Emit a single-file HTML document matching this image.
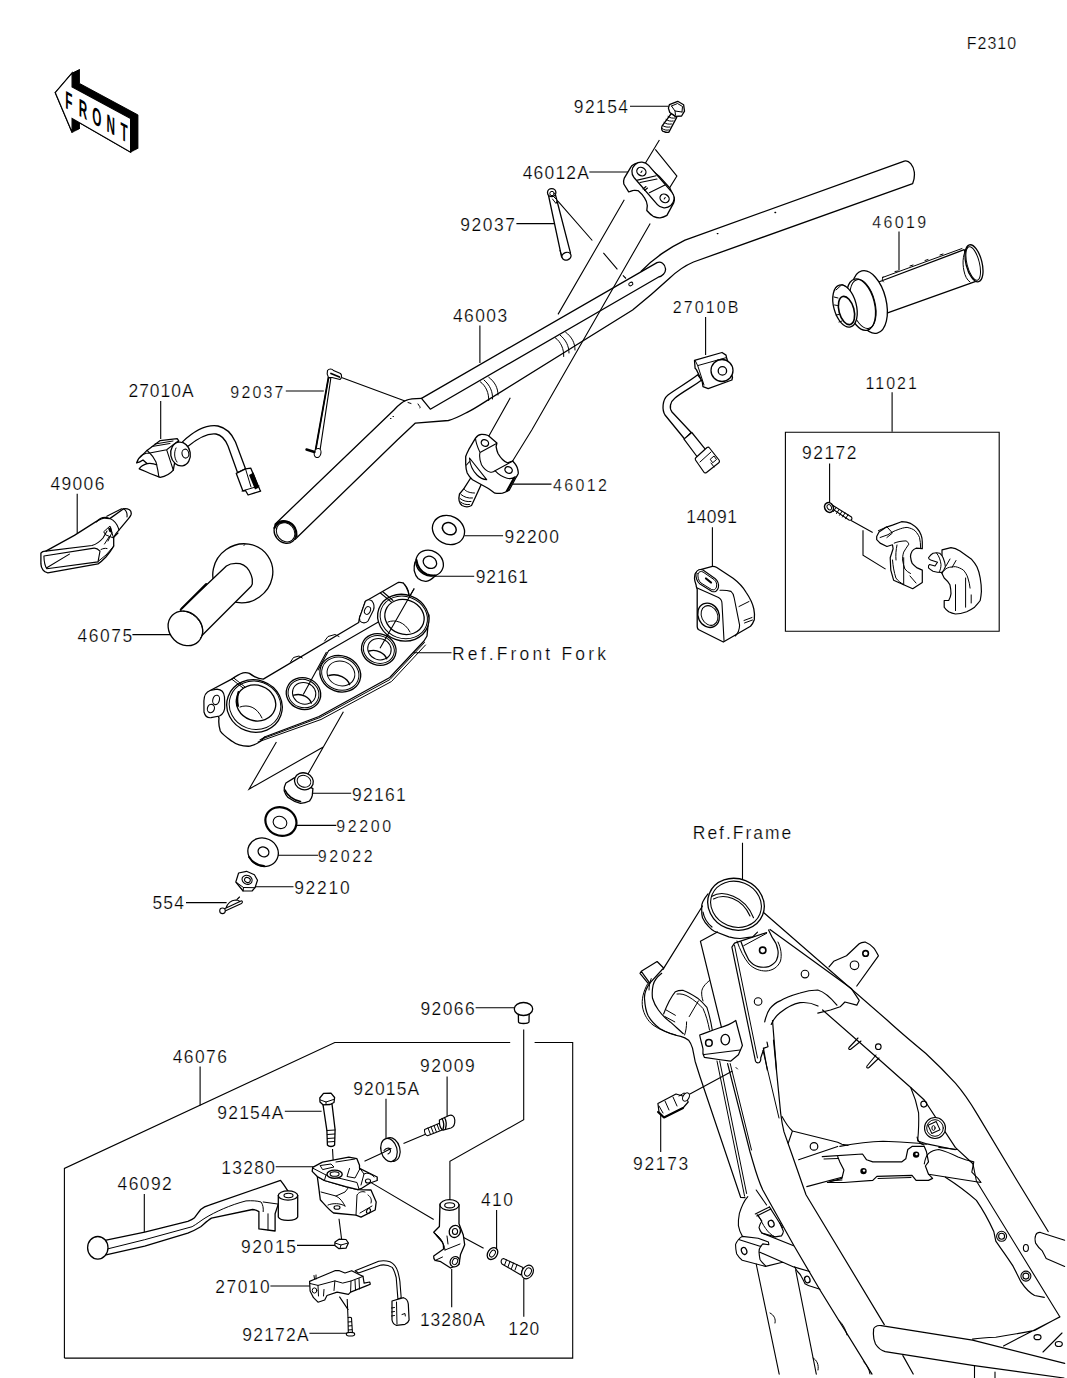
<!DOCTYPE html>
<html><head><meta charset="utf-8"><style>
html,body{margin:0;padding:0;background:#fff;}
svg{display:block;}
.o{fill:none;stroke:#000;stroke-linejoin:round;stroke-linecap:round;}
.t{fill:none;stroke:#000;}
.w{fill:#fff;stroke:#000;stroke-linejoin:round;}
text{font-family:"Liberation Sans",sans-serif;fill:#000;stroke:#fff;stroke-width:0.25px;}
</style></head><body>
<svg width="1067" height="1378" viewBox="0 0 1067 1378">
<rect width="1067" height="1378" fill="#fff"/>
<path class="t" stroke-width="1.1" d="M630.0 106.2L668.7 106.2M589.3 172.0L628.5 172.0M516.4 223.6L554.4 223.6M479.9 325.5L479.9 363.0M285.8 391.0L323.8 391.0M160.7 401.0L160.7 438.9M77.2 493.7L77.2 533.0M512.4 484.1L551.5 484.1M464.3 535.7L503.1 535.7M434.0 576.3L474.2 576.3M132.4 634.6L171.3 634.6M412.4 652.7L451.5 652.7M311.9 793.2L351.2 793.2M296.6 825.4L336.3 825.4M277.8 855.3L318.0 855.3M252.8 886.8L293.5 886.8M186.0 902.6L226.6 902.6M705.6 317.0L705.6 355.1M899.0 231.4L899.0 270.6M892.1 392.3L892.1 431.8M829.6 463.5L829.6 503.3M712.4 527.2L712.4 566.4M742.5 842.8L742.5 880.8M660.7 1113.8L660.7 1151.9M475.6 1007.7L514.2 1007.7M200.1 1066.6L200.1 1105.4M447.1 1076.4L447.1 1116.4M386.0 1098.7L386.0 1138.0M284.8 1111.2L321.6 1111.2M275.7 1166.8L315.0 1166.8M144.3 1194.0L144.3 1233.5M496.6 1210.0L496.6 1248.7M297.0 1245.4L336.2 1245.4M270.4 1286.0L311.0 1286.0M451.7 1269.0L451.7 1307.2M523.8 1278.6L523.8 1316.7M309.4 1333.3L348.4 1333.3"/>
<path class="t" stroke-width="1.1" d="M785.4 432.2H999.2V631.2H785.4Z"/>
<path class="t" stroke-width="1.1" d="M64.4 1358.1V1168.4L334.8 1042.5H510.2M534.6 1042.5H572.7V1358.1H64.4"/>
<path class="o" stroke-width="1.3" d="M275 524.2L393.7 410.2C398 405.5 402 402 406.1 400.4C409 399 413 398.4 421.5 398.4"/>
<path class="o" stroke-width="1.3" d="M641.2 271.2C650 262 657 257 663 252.9C670 248 677 244 685 240.1L904.3 161.1C909 159.5 913.5 166 914.3 172C914.8 177 913.8 181 912.7 183.6L693.5 262C684 266 676 272 669.2 278.5C660 287 645 300 632.6 310L486.9 400.6C480 405 474 409 468.1 411.8C462 415 455 419 448.4 420.5L415.4 423.1L397.3 440L295.2 539.2"/>
<ellipse class="o" stroke-width="1.3" cx="285.1" cy="532" rx="12" ry="10.3" transform="rotate(50 285.1 532)"/>
<ellipse class="o" cx="285.6" cy="532.3" rx="10.2" ry="8.6" transform="rotate(50 285.6 532.3)" stroke-width="1"/>
<path class="o" d="M274.5 528C276 523 282 520.5 288 522C294 524 297 530 296.5 536" stroke-width="2.2"/>
<path class="o" stroke-width="1.3" d="M421.5 398.4L657 262.6C661 261 665 264 665.5 268.7C666 273 662 276.5 658.2 277.2L430.3 409.2Z"/>
<path class="o" stroke-width="1" d="M480.3 381.8C486 386 489 393 488.7 400.6M484 380C490 385 493 392 492.5 399M488.7 377.2C495 382 498 388 498 395M555.3 337.8C561 342 564 349 563.7 356.5M560 335C566 340 569 346 569 353M565.6 332.2C572 337 575 343 575 350"/>
<path class="o" stroke-width="1" d="M408 402.5L411 403.5M418 404C419 406 421 407 420 408M390.5 418.5h0.5M393 416.5h0.5"/>
<ellipse class="o" stroke-width="1" cx="630.8" cy="284" rx="2.2" ry="1.6" transform="rotate(-30 630.8 284)"/>
<path class="o" stroke-width="1.4" d="M775 212.5h0.6M717.3 233.6h0.6"/>
<path class="t" stroke-width="1.1" d="M659.4 140L645 163.7M655.3 149.3L676.9 176.1L666.6 192.6M624.3 199.8L558 314.4M510.3 397.8L485.5 442M650.2 223.4L531.8 430L512 462M414.2 588.5L380 648.2M326.5 651.9L303.3 694.5M343.4 711.8L305.3 778.7M276.4 742L249 789.2L323.7 746.7M557.9 201.1L592.3 240.5M603.4 252.9L617.4 269.3M622.9 275.4L626 278.5M341.5 377.5L405 400.9"/>
<path class="w" stroke-width="1.3" d="M671.3 113.5L662 126.2C661 129 662 131.5 664 131.6C666 132.5 668 132.5 668.9 132.1L676.7 117.4Z"/>
<path class="o" stroke-width="1" d="M664 122.5C666 124 669 124.5 671.5 124M666 119.5C668 121 671 121.5 673.2 121M668 116.5C670 118 673 118.5 675 118M662.5 125.5C664.5 127 667.5 127.5 670 127M662 128.5C664 130 666.5 130.5 668.5 130"/>
<path class="w" stroke-width="1.3" d="M669.4 104.7L677.7 101.3L683.6 104.7L684.5 111.1L681.6 116L675.7 116.4L669.8 112.5L668.4 108.1Z"/>
<path class="o" stroke-width="1" d="M671.5 106L677.5 103.5L682.5 106.5L682 112M671.5 106L675 111L682 112M675 111L675.5 115"/>
<path class="w" stroke-width="1.3" d="M630.7 167.4L624.3 178.1C623.5 180 623.5 182 623.8 184L628.7 191.9C630 192 632 190.5 633.6 190.4C636 190 637 190.5 638.5 190.9C641 193 643 195 644.4 197.7C646 200 647 203 647.3 205.6L646.8 210.5C649 213 651 215 653.2 216.3C656 217.5 658 218 660.1 217.8C663 217.5 665 216.5 666.9 215.4L673.8 202.6C674.5 201 674.5 199 674.3 197.7L669.8 187.9L659.1 176.2L646.3 165.4C644 164 641 163 638.5 163C636 163 634 164 632.1 165.4Z"/>
<path class="w" stroke-width="1.3" d="M634.2 177.8L657.4 204.6A9.5 9.5 0 0 0 671.8 192.2L648.6 165.4A9.5 9.5 0 0 0 634.2 177.8Z"/>
<path class="o" stroke-width="1.1" d="M637.5 180.1L656.1 175.7M649.3 192.8L665 185M640 182.5L657 179"/>
<ellipse class="o" stroke-width="1.3" cx="641.4" cy="171.6" rx="4.8" ry="4" transform="rotate(35 641.4 171.6)"/>
<ellipse class="o" stroke-width="1.3" cx="664.6" cy="198.4" rx="4.8" ry="4" transform="rotate(35 664.6 198.4)"/>
<path class="o" stroke-width="1.1" d="M641 172.5l1 -1.5M664.2 199l1 -1.5M643 189L646 186.5M644.5 190.5L647.5 188"/>
<path class="w" stroke-width="1.3" d="M548 193L561.5 256.5C563 260 569 259 570.5 253.1L555.5 195Z"/>
<ellipse class="w" stroke-width="1.3" cx="566.5" cy="256.2" rx="4.6" ry="3.8" transform="rotate(-20 566.5 256.2)"/>
<ellipse class="w" stroke-width="1.3" cx="551.7" cy="192.6" rx="4.2" ry="4" />
<ellipse class="o" cx="552" cy="193.5" rx="2.2" ry="2.2" stroke-width="1"/>
<path class="o" stroke-width="1" d="M553 196L557.5 200.5L556 203.5L552.5 199M560 250.5L561.5 255"/>
<path class="w" d="M328.5 377.5L315.6 450L320.2 449.2L330.8 378.3Z" stroke-width="1.1"/>
<path class="o" d="M328.5 377.5L315.6 450" stroke-width="1.8"/>
<path class="w" d="M327.5 370.5C329 368.5 332 368.5 333.5 370.5L340.5 373.5C342 375 342 378 340 379.5L332 377.5L328.5 377.5C327 375 327 372 327.5 370.5Z" stroke-width="1.1"/>
<path class="o" d="M331 373.5L339.5 377" stroke-width="1.8"/>
<ellipse class="w" cx="317.6" cy="453" rx="3.3" ry="4.6" transform="rotate(15 317.6 453)" stroke-width="1.1"/>
<path class="o" d="M306.5 449.5L314.5 452" stroke-width="2.4"/>
<path class="w" stroke-width="1.3" d="M471 477.5L463.9 488.7L459.5 494C458.5 498 459 503 462 505.5C465 507 469 507 471.5 505.5L475.5 497L483.7 479Z"/>
<path class="o" stroke-width="1" d="M461 494.5C464 497 468 498.5 472.5 498M460 498.5C463 501 467 502 471 501.5M460.5 502C463 504 466 505 469.5 504.5M463.9 488.7C465 491 469 493 474.5 493"/>
<path class="w" stroke-width="1.3" d="M475.5 438.1C477 436 479 434.5 481.5 434.4C484 434.3 486 434.7 488.2 435.5L496.9 443L496.1 446.7C496.5 449 497 451.5 498 453.5C499.5 456 501 458 502.5 459.5C504 461 506 462.5 507.7 462.9L512.6 461C515 463.5 517 466 517.5 468.5C518 470.5 518.5 472 518.2 473.7C517.5 475 516.8 476.5 516 477.5L509.2 490.2C507 491.5 505 492.5 502.5 493.2C500 493.5 497.5 493.5 495 493.2C492.5 491.5 490 489.5 487.5 488L472.5 479.7C470 477.5 468.5 475.5 467.2 473C466 470 465.8 467 465.7 464L465.7 456.5C466.5 454 467.5 452 468.7 449.7Z"/>
<path class="o" stroke-width="1.1" d="M475.5 438.5C476 444 478 448 480 452.4L496.5 443.4M480 452.4C479 457 480 461 481.5 464.7C484 469 487 471.5 490.5 472.2C492.5 472.5 494 471.8 495 470.7L513 461M496.1 446.7M495 470.7C498 474 502 477 507 478.2C510 479 513 478.5 515.2 476.7M469.5 458C470 465 473 471 477 475C480 478 484 479.5 486.7 479.7L469.5 458M466.5 465L469.5 461.5M513.5 478L506 491.5M515 477.5L507.5 491"/>
<ellipse class="o" stroke-width="1.3" cx="484.9" cy="443" rx="3.8" ry="3.2" transform="rotate(30 484.9 443)"/>
<ellipse class="o" stroke-width="1.3" cx="508.6" cy="470" rx="3.8" ry="3.2" transform="rotate(30 508.6 470)"/>
<ellipse class="w" stroke-width="1.3" cx="448.5" cy="530" rx="16.6" ry="14" transform="rotate(28 448.5 530)"/>
<ellipse class="o" cx="449.3" cy="528.7" rx="7.2" ry="5.8" transform="rotate(28 449.3 528.7)" stroke-width="1.5"/>
<path class="w" stroke-width="1.3" d="M415 562C414 566 414 568 414.2 570.6C415 574 416 576.5 418.1 578.5C420.5 580.5 423 581.5 426 581.4C429 581 432 579 434.5 576.5L441 571Z"/>
<ellipse class="w" stroke-width="1.3" cx="429.6" cy="563.1" rx="14.2" ry="12.4" transform="rotate(30 429.6 563.1)"/>
<path class="o" stroke-width="2" d="M416.5 560C417 566 421 572 427 574.5C430 575.5 432 575.8 435 575.5"/>
<ellipse class="o" stroke-width="1.3" cx="429.9" cy="562.3" rx="7" ry="5.8" transform="rotate(30 429.9 562.3)"/>
<path class="w" stroke-width="1.3" d="M876 283L964.2 249.7L975.8 281.4L886.9 313.1Z"/>
<path class="o" stroke-width="1" d="M882.5 277.5L962 248.5M883 276.8C882 279 882 281 883.5 282M895 271.5l3 -0.5M910 266l3 -1M925 260.5l3 -1M940 255l3 -1"/>
<ellipse class="w" stroke-width="1.3" cx="974" cy="263.3" rx="8" ry="19" transform="rotate(-14 974 263.3)"/>
<ellipse class="o" cx="973.2" cy="263.5" rx="6.2" ry="17.2" transform="rotate(-14 973.2 263.5)" stroke-width="1"/>
<path class="o" stroke-width="1" d="M968 247C963 252 962 262 964 271C965 276 967 280 970 282"/>
<ellipse class="w" stroke-width="1.3" cx="869.5" cy="302" rx="16.6" ry="32" transform="rotate(-14 869.5 302)"/>
<ellipse class="w" stroke-width="1.3" cx="861" cy="304.6" rx="13.5" ry="26.3" transform="rotate(-14 861 304.6)"/>
<ellipse class="o" cx="863" cy="304" rx="12" ry="25" transform="rotate(-14 863 304)" stroke-width="1"/>
<ellipse class="w" stroke-width="1.3" cx="845" cy="306" rx="11.3" ry="21.6" transform="rotate(-15 845 306)"/>
<ellipse class="o" cx="846.5" cy="310.5" rx="7.5" ry="14.5" transform="rotate(-15 846.5 310.5)" stroke-width="1.6"/>
<path class="o" stroke-width="1" d="M836 290L842 284.5L845 286M834 297l4 1M834.5 305l3 0.5M836 315l3 -0.5M839 322l3 -1"/>
<path class="w" stroke-width="1.3" d="M697.7 374.8C690 381 676 389 668 395C662 400 662 410 665 415L684.6 439L691.2 432.5L672 412C669 408 670 402 675 398C682 392 694 386 701.7 380Z"/>
<path class="w" d="M684 439.1L691.8 432.5L705.6 449.6L697.7 457.5Z" stroke-width="1.2"/>
<path class="w" d="M696 457.5L707 447.5C708 447 709 447.3 709.5 448L719 460C719.8 461 719.5 462.3 718.5 463L706.5 472.5C705.5 473.2 704.3 473 703.8 472L695.5 460C695 459 695.2 458.2 696 457.5Z" stroke-width="1.2"/>
<path class="o" stroke-width="1" d="M700 462L711 452M710.5 459l3.5 -3l2.5 3.5l-3.5 3zM711 463l3 4"/>
<path class="w" stroke-width="1.3" d="M694.5 360.4L722 352.5L726 355.1L726.6 357.7L732.5 377.4L731.9 380L708.2 388.6L703 386.6L702.3 382L696.4 369.6L695.1 368.2Z"/>
<path class="o" stroke-width="1" d="M695.1 360.4L697.7 365.6L726 357.7M697.7 365.6L704 385"/>
<circle class="w" stroke-width="1.3" cx="722" cy="370.5" r="11"/>
<circle class="o" stroke-width="1.3" cx="722.4" cy="370.9" r="4.2"/>
<path class="w" stroke-width="1.3" d="M695 574C696.5 571.5 698.5 570 700.5 569.6L712.4 566.4C714 566.3 715.5 566.8 716.8 567.5L733.1 578.3C738 582 743 587 746.2 592.5C750 598 752.5 603 753.8 608.8C754.5 612 754.8 616 754.3 619.7C753.5 622 752 624.5 750.5 626.2L723.3 642L698.3 629.5C697.5 628.5 697.2 627.5 697.2 626.5L697.2 589.2C696.5 587.5 696 586 696.1 584.9C695 582 694.5 580 694.5 578.3Z"/>
<path class="o" stroke-width="1.1" d="M697.2 588.1L718.5 597.5C721 599 722 601 722 603.5L724 640.5M720 590.3C724 590 728 590.5 731 591.4C733 593 734 595.5 734.2 598L739.6 625.1C739.5 630 737.5 634 735.3 636"/>
<path class="w" stroke-width="1.1" d="M696 573C697 570 700 569 703 570L715 578.5C718 581 719 584 718.4 587.5C717.5 591 715 592.5 712 591.5L700 584C697 582 695.5 577 696 573Z"/>
<path class="o" stroke-width="1" d="M698 573.5C699 571.5 701 571 703 572L714 579.5C716.5 581.5 717 584 716.5 587C715.5 589.5 714 590.5 711.5 589.5L701 583C698.5 581 697.5 577 698 573.5Z"/><path class="o" stroke-width="2.2" d="M706 578.5L711 582.5"/>
<ellipse class="o" cx="708.6" cy="615.3" rx="10.5" ry="12.5" transform="rotate(-25 708.6 615.3)" stroke-width="1.4"/>
<ellipse class="o" cx="709.5" cy="615.5" rx="8" ry="10.2" transform="rotate(-25 709.5 615.5)" stroke-width="1"/>
<path class="o" stroke-width="1" d="M744 620.5l8 -3M744.5 623l8 -3M739 606.5l10 -5"/>
<path class="t" stroke-width="1.1" d="M851.1 520.6L872.7 532.5M863 530.3V555.1L885.6 569.1"/>
<path class="w" d="M831 508L849 520C851.5 521 852.5 519 851.5 517L833 505.5Z" stroke-width="1.1"/>
<path class="o" stroke-width="1" d="M836 507.5l-2.5 4M839 509.5l-2.5 4M842 511.3l-2.5 4M845 513l-2.5 4M848 514.8l-2.5 4"/>
<ellipse class="w" cx="829" cy="507.5" rx="4.2" ry="5" transform="rotate(-30 829 507.5)" stroke-width="1.6"/>
<ellipse class="o" cx="829.3" cy="507.3" rx="2" ry="2.8" transform="rotate(-30 829.3 507.3)" stroke-width="1"/>
<path class="w" d="M876.7 536.4L879 531.9L885.7 527.4L892.5 525.1L901.5 521.7C905 521.8 908 522.3 910.5 523.4C913 525 915.5 526.5 917.2 528.5C919 530.5 920.5 533 921.2 535.2C922 537.5 922.3 540 922.3 542L922.3 548.7L916.1 548.2C914 549 913 550 912.2 551C911 553 910.5 555 910.5 556.6C910.8 559 911.3 561.5 912.2 563.4C914 565.5 915.5 566.8 917.2 567.9L922.3 570.1L922.3 582.5L912.7 588.7L903.7 584.7L893.6 580.2L890.8 570.1L890.2 557.7L893.1 548.7L892.5 544.8L886.9 546.5L880.1 543.1L876.7 539.7Z" stroke-width="1.2"/>
<path class="o" stroke-width="1" d="M880.1 537.5L888 534.7C891 532.5 894 531 898.1 529.6C901 528.5 904 527.5 907.1 527.4C910 528 913 529 915 530.7C917 533 918.5 535 919.5 537.5C920.3 541 920.6 544 920.6 547.6M878.4 530.7L886.9 526.8L892.5 533L886.9 537.5M894.2 543.1C898 541.5 902 541 906 540.9C907.5 541.5 908.5 542.8 908.8 544.2C907 547 905 549.5 903.7 552.1C902.8 555 902.5 557.5 902.6 560C903 563 903.8 566 904.9 569C906.5 571 908.5 572.5 910.5 573.5M892.5 560C893 566 894 572 895.9 578C898 581 901 583 903.7 584.7M903.7 557.7L903.7 584.7M897 545C896 550 895.5 555 896 560M910 576L916 583"/>
<path class="w" d="M942 549.9L951 547.6C954 547.8 957 549 960 551L971.2 558.9C973.5 561.5 975.5 564 976.9 566.7C978.5 570 979.5 574 980.2 578C981 582.5 981.4 587 981.4 591.5C981.2 594.5 980.8 597.5 980.2 600.5C978.5 603 976.5 605 974.6 607.2C972 609 969.5 610.5 966.7 611.7C963 613 959 614 955.5 614C953 613.5 951 612.8 948.7 611.7C946.5 610 945 608.5 944.2 607.2L944.2 600.5L948.7 600.5C950 598 950.8 596 951 593.7C951 590.5 950.5 587.5 949.9 584.7C948.5 582 946.5 580 944.2 578L942 573.5Z" stroke-width="1.2"/>
<path class="o" stroke-width="1" d="M942 573.5C943.5 570.5 945.5 568.8 947.6 567.9C950 567 953 566.6 955.5 566.7C958.5 567.3 961 568.5 963.4 570.1C965.5 572.5 967 575 967.9 578C969 581.5 969.8 585 970.1 588.1M955.5 584.7L955.5 610.6M965.6 578L965.6 607.2M971.2 594.9L971.2 603M946 566L950 559M952 567.5L956 560.5"/>
<path class="w" d="M928.5 557.7C930 555.5 931.5 554 933 553.2C936 552.5 938 552.6 939.7 553.2C941 554.5 942.3 556 943.1 557.7C944.3 560.5 945.2 563.5 945.4 566.7C944.5 569 943.3 571 942 572.4C939 572.5 936 572 933 571.2C931 570 929.5 569 928.5 567.9C928.2 566 928.5 565 929.5 564.5L935 566L937.5 562.2L930.7 560C929.5 559.5 928.6 558.8 928.5 557.7Z" stroke-width="1.1"/>
<path class="o" stroke-width="1" d="M936.5 553C939 556 940.5 560 941 564.5C941 567 940.5 569.5 939.5 571.5"/>
<path class="w" stroke-width="1.3" d="M182.5 441.9C195 430 208 424.5 218 426C227 428 232 434 235.5 442L245.5 468.8L237.6 472.7L228 446C225.5 440 222 435 216 434C208 433 198 438 187.7 446.5Z"/>
<path class="w" stroke-width="1.3" d="M236.3 473.4L245.5 468.8L250.7 468.1L259.9 489.8L260.6 491.1L248.1 495L245.5 490.5L242.9 491.1Z"/>
<path class="o" stroke-width="1" d="M245.5 468.8L251 487M242 491L259 486"/>
<path d="M249 475L253.5 472.5L259 487.5L255 489.5Z" fill="#000"/>
<path class="w" stroke-width="1.3" d="M147 450.4L160.2 440.6L177.2 438.6L178.6 440.6L173.3 470.1C170 474 165 476.5 160.2 477.3L150 473.5C146 472 143 470 139.2 468.8C141 466 144 464.5 147 463.6L143 460C141 461.5 139 462.5 136.6 462.9C138 459 140 456.5 143.1 454.4Z"/>
<path class="o" stroke-width="1" d="M152 446.5L170 443.5M155 444L173 441"/>
<path class="o" stroke-width="1.1" d="M147 450.4L149.7 453L166.7 449.8L178.6 440.6M166.7 449.8L173.3 470.1M149.7 453C152 455 154 458 156 462C157 466 158 470 158.9 477M143.1 454.4C146 453 148 453 149.7 453M147 463.6C151 463 154 463.5 157 465"/>
<ellipse class="w" stroke-width="1.3" cx="180.5" cy="454" rx="9.8" ry="12" transform="rotate(-10 180.5 454)"/>
<ellipse class="o" cx="185.4" cy="453.6" rx="3.4" ry="4.5" transform="rotate(-10 185.4 453.6)" stroke-width="1.1"/>
<path class="o" stroke-width="1" d="M176 448C174 452 174 458 177 462"/>
<path class="w" stroke-width="1.3" d="M40.9 553.1C42 551.5 44 551 45.8 551.1L74.4 535.4L96 521.6C99 520 101.5 518.5 103.9 518.1C106 518 108 518.3 109.8 518.6L123.6 508.8C126 508.5 128 509 129.5 509.8C131 511 131.5 513 131 514.7C130.5 516 129.5 517.5 128.5 518.6L118.7 530.4C116.5 532.5 115 535 113.7 537.3L113.7 546.2C111.5 550 108.5 554 105.9 557C103.5 559.5 101 562 98 563.9L64.5 569.8L47.8 572.8C46 572.5 44 571.5 42.9 569.8C41.5 568 41 566 40.9 563.9Z"/>
<path class="o" stroke-width="1.1" d="M43.9 556L94.1 548.1C96.5 548 98.5 549.5 100 551.1L98 561.9L46.8 568.8C45 566 44 561 43.9 556ZM46.8 567.8L69.4 554.1M45.8 551.1L92 545.5C97 544 100.5 541 103 538L107 531"/>
<path class="o" stroke-width="1.1" d="M96.5 522C99 518.5 103 517 107 517.5C111 518.5 115 521.5 117 525C118.5 528 119 530 118.7 530.4M106.8 516.2L121.6 508.8M123 508.5C126 510 127.5 513 127 517M113.7 537.3L118 533"/>
<path class="o" stroke-width="1" d="M104 531.5L110 526L113.5 538L106 535ZM108 541L111.5 533.5M104.5 544L109 537M113.7 546.2L106 555L98 561.5M101 549.5C103 548.5 105 548 107 548.5"/>
<path d="M108 528.5L111 527L112.5 533L109.5 532Z" fill="#000"/>
<ellipse class="w" stroke-width="1.3" cx="242.8" cy="573.3" rx="30.5" ry="29" transform="rotate(-35 242.8 573.3)"/>
<path class="o" stroke-width="1" d="M244 545.5l0.6 -0.8"/>
<path class="w" stroke-width="1.3" d="M180.3 609.8L226.4 566C230 563.5 235 563 240 563.7C245 565 249 569 251.2 575C252.5 578 252.7 581 252.3 584L251.2 586.2L201.7 635.7Z"/>
<path class="o" stroke-width="2" d="M181.5 608.7L206.2 584"/>
<ellipse class="w" stroke-width="1.3" cx="185.4" cy="628.4" rx="18.5" ry="16" transform="rotate(45 185.4 628.4)"/>
<path class="o" stroke-width="1" d="M183 611C192 612 200 619 202.5 628C203.5 633 202 636 200.5 638"/>
<path class="w" stroke-width="1.3" d="M210.2 690.5L231.7 679.1C236 676 239 674 243.1 672.8C246 672.3 248 672.8 249.4 673.4C251 674.5 253 675.8 254.5 676.6C257 678 260 679 263.3 679.1L358.7 622.5C359 619 360 616.5 360.7 614.6L365.3 601.5C366 600.8 366.5 600.4 367.3 600.2L398.1 582.5C400 582.3 402 582.5 403.4 583.1C405.5 585.5 407 588 408 591L409.3 596.2L429 615L427 636L424 641L389.8 677.5L319 716.5L264.5 737C262 741 258 744 250 746.2C242 746.5 236 744.5 231.7 741.1C226 737 222 734 220.3 731C219 727 218.5 722 219 718.3Z"/>
<path class="o" stroke-width="1" d="M290.5 662L293.5 657.5L299 656L302.3 658M324.6 641L328 636.5L335 634.5L339 636.5M409 596C409 590 406 585 403.4 583.1M425.5 645L391.5 681.5L321 719.5L258 742M424.5 642.5L390 679.5L320 717.5L262 739"/>
<path class="o" stroke-width="1.1" d="M328.6 650.7L403.4 607.4M328.6 650.7L318 670M265 737L260 740"/>
<ellipse class="w" stroke-width="1.3" cx="403.3" cy="617.7" rx="26" ry="23" transform="rotate(20 403.3 617.7)"/>
<ellipse class="o" cx="403.8" cy="617.4" rx="24" ry="21" transform="rotate(20 403.8 617.4)" stroke-width="1"/>
<ellipse class="o" stroke-width="1.3" cx="404.5" cy="617" rx="20" ry="17.2" transform="rotate(20 404.5 617)"/>
<path class="o" stroke-width="1" d="M388 622C395 619 405 622 410 632"/>
<path class="o" stroke-width="1.1" d="M380.4 593L391.5 602.2M382.5 591.5L393 600.5"/>
<path class="w" d="M360.7 614.6L365.3 601.5C367 599.5 370 599.5 372 601C374 603.5 374.5 607 373.5 610L368 621C366 623.5 362 623.5 360 621C359 619 359.5 616.5 360.7 614.6Z" stroke-width="1.1"/>
<ellipse class="o" cx="367.5" cy="610.5" rx="2.8" ry="4" transform="rotate(25 367.5 610.5)" stroke-width="1"/>
<ellipse class="w" stroke-width="1.3" cx="254.5" cy="706" rx="28" ry="26" transform="rotate(20 254.5 706)"/>
<ellipse class="o" cx="255" cy="705.3" rx="26" ry="24" transform="rotate(20 255 705.3)" stroke-width="1"/>
<ellipse class="o" stroke-width="1.3" cx="256" cy="703" rx="20" ry="17.7" transform="rotate(20 256 703)"/>
<path class="o" stroke-width="1" d="M240 707C248 704 257 707 262 718M231.7 679.1L243.1 688M233.5 677.8L245 687"/>
<path class="o" stroke-width="2" d="M238.5 692C237 697 237 702 238 706"/>
<path class="w" d="M210.2 690.5C206 692 204 696 203.9 701L204 712C205 716 208 718 211 717.7L219.5 716C223 714 225 710 224.7 706L224.5 697C224 692 221 689.5 217 689.2Z" stroke-width="1.2"/>
<ellipse class="o" cx="216.1" cy="699.9" rx="3.3" ry="4.8" transform="rotate(15 216.1 699.9)" stroke-width="1.1"/>
<ellipse class="o" cx="210.9" cy="708.5" rx="3.5" ry="4.3" transform="rotate(15 210.9 708.5)" stroke-width="1.1"/>
<ellipse class="w" stroke-width="1.3" cx="303.5" cy="693.6" rx="17.4" ry="15.8" transform="rotate(20 303.5 693.6)"/>
<ellipse class="o" cx="303.5" cy="693.6" rx="15.599999999999998" ry="14.0" transform="rotate(20 303.5 693.6)" stroke-width="1"/>
<ellipse class="o" cx="304.0" cy="693.1" rx="11.832" ry="10.744000000000002" transform="rotate(20 303.5 693.6)" stroke-width="1"/>
<path class="o" stroke-width="1.4" d="M293.9 695.2C301.8 692.8 309.6 697.6 311.3 703.1"/>
<ellipse class="w" stroke-width="1.3" cx="340.3" cy="673.7" rx="20.7" ry="18" transform="rotate(20 340.3 673.7)"/>
<ellipse class="o" cx="340.3" cy="673.7" rx="18.9" ry="16.2" transform="rotate(20 340.3 673.7)" stroke-width="1"/>
<ellipse class="o" cx="340.8" cy="673.2" rx="14.076" ry="12.24" transform="rotate(20 340.3 673.7)" stroke-width="1"/>
<path class="o" stroke-width="1.4" d="M328.9 675.5C338.2 672.8 347.5 678.2 349.6 684.5"/>
<ellipse class="w" stroke-width="1.3" cx="378.8" cy="649.5" rx="17.5" ry="15.5" transform="rotate(20 378.8 649.5)"/>
<ellipse class="o" cx="378.8" cy="649.5" rx="15.7" ry="13.7" transform="rotate(20 378.8 649.5)" stroke-width="1"/>
<ellipse class="o" cx="379.3" cy="649.0" rx="11.9" ry="10.540000000000001" transform="rotate(20 378.8 649.5)" stroke-width="1"/>
<path class="o" stroke-width="1.4" d="M369.2 651.0C377.1 648.7 384.9 653.4 386.7 658.8"/>
<path class="t" stroke-width="1.1" d="M414.2 588.5L380 648.2M326.5 651.9L303.3 694.5"/>
<path class="w" stroke-width="1.3" d="M285.9 783C284.5 785.5 284 788 284.2 790.9C285 793.5 286.5 795.8 288.1 797.6C292 800.5 296 802.5 300.5 803.3C303.5 803.2 306.5 802.5 309.5 801C311 799 312 797.5 312.3 795.4L312.9 788.6L294.3 777.9Z"/>
<path class="o" stroke-width="1.6" d="M285 790C287 795 293 800 300.5 801.5"/>
<ellipse class="w" stroke-width="1.3" cx="303.9" cy="781.3" rx="9.6" ry="8.4" transform="rotate(20 303.9 781.3)"/>
<ellipse class="o" cx="304" cy="781.3" rx="7" ry="5.8" transform="rotate(20 304 781.3)" stroke-width="1"/>
<ellipse class="w" cx="280.9" cy="821.5" rx="15.8" ry="14.1" transform="rotate(25 280.9 821.5)" stroke-width="2.2"/>
<ellipse class="o" cx="280" cy="822.4" rx="7" ry="6" transform="rotate(25 280 822.4)" stroke-width="1.1"/>
<ellipse class="w" stroke-width="1.3" cx="263.1" cy="852.2" rx="15.5" ry="14" transform="rotate(25 263.1 852.2)"/>
<path class="o" stroke-width="1.8" d="M249 857C252 862 257 865 264 866"/>
<ellipse class="o" cx="263.5" cy="851.9" rx="5.6" ry="4.8" transform="rotate(25 263.5 851.9)" stroke-width="1.3"/>
<path class="w" d="M238.6 873L246.5 871.3L254.4 874.7L257.5 880.3L255 887.7L252.1 891L243.1 891L235.8 882Z" stroke-width="1.2"/>
<path class="o" stroke-width="1" d="M236.5 882.5L243.5 887.5L255 887.7M243.5 887.5L243.1 891"/>
<ellipse class="o" cx="247.1" cy="879.8" rx="5.2" ry="4.4" transform="rotate(25 247.1 879.8)" stroke-width="1.1"/>
<ellipse class="o" cx="247.4" cy="880" rx="3" ry="2.4" transform="rotate(25 247.4 880)" stroke-width="1"/>
<path class="o" stroke-width="1.1" d="M224 911.5L241.5 903.5C243 902.5 242.5 900.5 241 901L225 908.5M226 908C227.5 903.5 231 900.5 235.5 900C237.5 900 239 900.5 240 901.5M237 899.5L239.5 897"/>
<circle class="w" cx="222.5" cy="910.8" r="2.8" stroke-width="1.1"/>
<path class="t" stroke-width="1.1" d="M523.7 1029.4V1119.7L449.9 1161.2V1200M332.5 1149L333.5 1166.3M364.5 1161.2L382.3 1153.1M426.7 1133.7L403.5 1143.6M371.1 1182.6L433.7 1219.5M459 1235L483.6 1248.3M339 1218.8L341.6 1239.2M339.4 1296.6L348.4 1310.1M347.2 1298.9L348 1318"/>
<path class="w" stroke-width="1.3" d="M518.3 1012L518.5 1022C519 1024 528 1024 529 1022L529.2 1012Z"/>
<ellipse class="w" stroke-width="1.3" cx="523.5" cy="1009" rx="9.2" ry="6.5"/>
<path class="w" stroke-width="1.3" d="M103.7 1240.7L144.7 1232.1L187.8 1221.3C190 1220.5 192.5 1219.5 194.2 1218.1C196.5 1215.5 198.5 1212 200.7 1209.5C203 1207.5 206 1206 209.3 1205.2L280.5 1180.4L283.7 1184.7L288 1191.2L278.3 1204.1L275.1 1213.8L275.1 1231L258.9 1228.9L258.9 1211.6C256.5 1210 254.5 1209.5 252.5 1209.5L211.5 1218.1C207.5 1220.5 204 1224 200.7 1226.7C196 1229.5 192 1231.5 187.8 1233.2L144.7 1246.1L101.6 1255.8Z"/>
<path class="o" stroke-width="1" d="M101.6 1250.4L144.7 1239.7L192.1 1226.7C197 1224 201 1220.5 205 1218.1C215 1212 230 1205 246 1200.9C252 1200.5 257 1200.8 261.1 1202C263 1205 263.5 1208 263.2 1211.6M263.2 1202L278.3 1204.1M268 1213.8L268 1230"/>
<ellipse class="w" stroke-width="1.3" cx="97.8" cy="1247.8" rx="10.2" ry="11.3"/>
<path class="w" stroke-width="1.3" d="M278.3 1195.5L278.3 1217C280 1221 295 1222 297.7 1217L297.7 1195.5Z"/>
<ellipse class="w" stroke-width="1.3" cx="288" cy="1195.5" rx="9.7" ry="4.6"/>
<ellipse class="o" cx="288.5" cy="1195.5" rx="4.5" ry="2.2" stroke-width="1.1"/>
<path class="w" stroke-width="1.3" d="M322.9 1103.8L326.9 1130.7L327.4 1145C329 1147 333 1147 334.6 1145L335.1 1129.7L332 1103.8Z"/>
<path class="o" stroke-width="1" d="M327 1130.5L335 1130M327.3 1134.5L334.8 1134M327.4 1138.5L334.7 1138M327.4 1142L334.6 1141.5"/>
<path class="w" stroke-width="1.3" d="M319.8 1098L323.5 1093.3L331 1093.1L334.6 1097.5L334 1102.5L330 1104.5L323 1104.8L320 1102Z"/>
<path class="o" stroke-width="1" d="M320.5 1100L326 1102L333.5 1099.5M326 1102L326 1104.5"/>
<ellipse class="w" cx="391.5" cy="1149.5" rx="8.4" ry="12" transform="rotate(-15 391.5 1149.5)" stroke-width="1.2"/>
<ellipse class="w" cx="389" cy="1150" rx="8" ry="11.8" transform="rotate(-15 389 1150)" stroke-width="1.2"/>
<path class="o" stroke-width="1.1" d="M382.3 1153.1L391 1148.5M384 1150.5C386 1148 389 1147.5 390 1149C391 1151 390 1153 388 1154"/>
<path class="w" d="M424.6 1129.5L439.5 1123.2L442.2 1130L427.5 1135.8C425.5 1135.5 424 1132 424.6 1129.5Z" stroke-width="1.1"/>
<path class="o" stroke-width="1" d="M428 1128l2.3 6M431 1126.8l2.3 6M434 1125.6l2.3 6M437 1124.3l2.3 6"/>
<path class="w" d="M439.4 1120L449 1115.5C452 1114.5 454.5 1116 454.8 1120C455 1124 453.5 1127 451 1128L443 1130.2C440.5 1129 439.3 1124 439.4 1120Z" stroke-width="1.2"/>
<path class="o" stroke-width="1.3" d="M442 1118.5C443.5 1121 444 1126 443 1129.5M444.5 1117.5C446 1120 446.5 1125 445.5 1128.8"/>
<path class="w" stroke-width="1.3" d="M319.3 1191.7C319.5 1194 320 1197 320.3 1199.8C325 1205 329 1210 333.5 1213L355.9 1215.1L361 1217.1L375.2 1210L376.2 1201.9L371 1190L357.9 1189.7L345.7 1186.6L324.4 1180.5L317.3 1176.5Z"/>
<path class="o" stroke-width="1" d="M321 1192L336 1196C340 1198 343 1202 345 1206M336 1196L345 1192L349 1187M328 1205C333 1203 340 1203 345 1206M356 1215L357 1195C359 1192 362 1191 365 1192M360 1213l12 -7M368 1195C371 1197 372 1200 371 1203"/>
<ellipse class="o" cx="337" cy="1207.5" rx="3" ry="1.8" stroke-width="1.1"/>
<ellipse class="o" cx="368.5" cy="1211" rx="1.8" ry="2.6" transform="rotate(25 368.5 1211)" stroke-width="1.1"/>
<path class="w" stroke-width="1.3" d="M312.7 1167.3L322.4 1162.2L348.8 1157.2L356.9 1158.7L359.5 1165.3L359.5 1168.3L377.2 1177L377.2 1180.5L370.1 1183L361 1188.7L357.9 1189.7L345.7 1186.6L324.4 1180.5L317.3 1176.5L312.2 1171.4Z"/>
<path class="o" stroke-width="1" d="M312.5 1168L326 1175L357 1182.5L359 1189M326 1175L324.4 1180.5M320.5 1165.5L331 1164L334 1167L323 1169.5ZM336 1162L355 1159M349.5 1168.5L347 1176.5L355 1178L360 1168.5L364 1174L361 1185M364 1174C367 1172 372 1174 374 1177"/>
<ellipse class="w" cx="334.6" cy="1174.2" rx="7.6" ry="4.1" stroke-width="1.4"/>
<ellipse class="o" cx="334.6" cy="1174" rx="4.5" ry="2.3" stroke-width="1.1"/>
<ellipse class="o" cx="368" cy="1181" rx="2.6" ry="2" stroke-width="1.1"/>
<path class="w" d="M335 1242L339 1239.2L346 1239.5L348.4 1243L346 1248.2L339 1248.7L334.8 1245.5Z" stroke-width="1.2"/>
<path class="o" stroke-width="1" d="M335 1243L341 1245L348 1243M341 1245L340 1248.5"/>
<path class="w" stroke-width="1.3" d="M440 1204L439.4 1226.5L433.7 1232.2C436 1235 439 1238 442.2 1242C443.5 1244 443.8 1246.5 443.6 1249L433.7 1256C433.5 1258 434 1259.5 435.1 1260.3L440.8 1261.7L450.6 1268L459 1264.5L460.5 1254.6L464.7 1244.8L463.3 1235L459 1223.7L459 1204.7Z"/>
<ellipse class="w" stroke-width="1.3" cx="449.5" cy="1205" rx="9.5" ry="5.3"/>
<ellipse class="o" cx="449.7" cy="1205.3" rx="5" ry="2.6" stroke-width="1.1"/>
<path class="o" stroke-width="1" d="M434 1233C440 1236 444 1243 445 1250M435 1260.5L442.5 1257M445 1250L460 1244M447 1236L448 1244"/>
<ellipse class="w" cx="454.8" cy="1231.4" rx="5.5" ry="6.2" transform="rotate(25 454.8 1231.4)" stroke-width="1.3"/>
<ellipse class="o" cx="455" cy="1231.5" rx="2.6" ry="3" stroke-width="1.1"/>
<ellipse class="w" cx="454.8" cy="1261.7" rx="4.6" ry="5.3" transform="rotate(25 454.8 1261.7)" stroke-width="1.2"/>
<ellipse class="o" cx="455" cy="1261.5" rx="2.5" ry="3.2" transform="rotate(25 455 1261.5)" stroke-width="1"/>
<ellipse class="w" cx="492.5" cy="1253.6" rx="4.7" ry="6.4" transform="rotate(35 492.5 1253.6)" stroke-width="1.3"/>
<ellipse class="o" cx="492.5" cy="1253.6" rx="2.3" ry="3.8" transform="rotate(35 492.5 1253.6)" stroke-width="1"/>
<path class="w" d="M503.5 1258.5L523 1267.5L521 1275L502 1264C500.5 1262 501 1259 503.5 1258.5Z" stroke-width="1.1"/>
<path class="o" stroke-width="1" d="M506.5 1259.8l-2 5.5M510 1261.4l-2 5.5M513.5 1263l-2 5.5M517 1264.6l-2 5.5"/>
<ellipse class="w" cx="527.5" cy="1272" rx="5.4" ry="7.2" transform="rotate(30 527.5 1272)" stroke-width="1.2"/>
<ellipse class="o" cx="528" cy="1272" rx="3" ry="4.3" transform="rotate(30 528 1272)" stroke-width="1"/>
<path class="w" d="M355.1 1270.7L378.7 1261.2C382 1260.5 386 1260.5 390 1261.7C394 1263.5 396.5 1267 397.9 1271.9C399 1276 400 1280 400.1 1284.2L401.2 1297.7L397.9 1298.9L396.2 1277.5C395 1273 394 1269.5 392.2 1267.4C389 1265.5 385 1264.5 381 1265.1L358.5 1273Z" stroke-width="1.1"/>
<path class="w" d="M392 1301L403.5 1297.7C406 1298.5 408 1301 408.3 1304L409.1 1320C408.5 1322 407 1323.5 405 1324.3L396.5 1325.3C394 1324.8 392.5 1322.5 392 1320Z" stroke-width="1.2"/>
<path class="o" stroke-width="1" d="M396.5 1302L397 1324M391.5 1308l3 -0.5M391.5 1312l3 -0.5M391.5 1316l3 -0.5M402 1314.5l3 -1l0.3 2.5"/>
<path class="w" d="M309.6 1281.4L314.6 1279.2L334.9 1270.7L339.4 1270.7L345 1273L351.7 1270.7L359.6 1274.7L363 1276.4L364.1 1283.1L369.7 1282L370.3 1284.2L367.5 1285.4L350.6 1292.1L348.4 1294.4L337.1 1292.1L327 1295.5L324.7 1300L318 1302.2L313.5 1297.7L310.1 1291Z" stroke-width="1.2"/>
<path class="o" stroke-width="1" d="M310 1283.5L318 1285.4L334.9 1280.9L342.7 1283.1L351 1281L363 1276.4M318 1285.4L318.5 1296M324 1289.5L323.5 1296M334.9 1280.9L334 1290.5M351 1281L350.6 1292.1M355 1280L355.5 1290M359 1278.5L359.5 1289M314 1275.5L314.5 1279M316 1275l0 4"/>
<ellipse class="o" cx="314.5" cy="1290.5" rx="2.3" ry="2.6" stroke-width="1"/>
<path class="w" d="M348 1318L348.3 1333.5L352.5 1333.5L351.5 1318C351 1317 348.5 1317 348 1318Z" stroke-width="1.1"/>
<path class="o" stroke-width="1" d="M348.3 1322l3.2 -0.3M348.4 1326l3.3 -0.3M348.4 1330l3.4 -0.3"/>
<ellipse class="w" cx="350.5" cy="1334.2" rx="4.2" ry="1.8" stroke-width="1.1"/>
<path class="o" stroke-width="1.2" d="M708 893.9C703 900 701 905 701.7 908.2C701.5 913 702 916 702.5 917.8C704 921 706 924 708 925.8C710 928 712 930 714.4 931.3L728.8 936.9C733 938 737 938.5 740 938.5C745 938 749 937.5 752.7 936.9L757.5 932.1"/><path class="o" stroke-width="1.2" d="M703 912C704 918 707 923 712 927"/><path class="o" stroke-width="1.2" d="M702.5 906L663 969.4"/><path class="o" stroke-width="1.2" d="M641.3 971.3L657.1 961.5L663.6 968L649.8 983.1ZM641.3 971.3L640 973.3L647.9 983.1L649.8 983.1"/><path class="o" stroke-width="1.2" d="M649.8 983.1C645 990 644 995 644.6 999.6C645 1006 646 1011 647.9 1015.3C651 1021 655 1025 659.7 1028.4C666 1032 673 1035 680.7 1036.3C684 1037 686 1038 688.6 1040.2C690 1042 691.5 1045 692.5 1048.1L695.1 1061.2L700 1076.7L740.7 1197.5L745 1197.6"/><path class="o" stroke-width="1" d="M647.5 984C643 992 641.5 1000 642.5 1007C644 1015 648 1021 653 1025C660 1030 668 1033 676 1035"/><path class="o" stroke-width="1.2" d="M661.7 973.3C657 977 654 981 653.1 985.1C652 990 652 994 652.5 998.2C654 1003 656 1007 658.4 1010C662 1015 666 1019 670.2 1021.9C675 1026 679 1030 683.3 1033.7"/><path class="o" stroke-width="1" d="M651.2 978.6C650 982 649 986 649 990"/><path class="o" stroke-width="1.1" d="M663.6 1014C667 1005 671 997 675.4 991.7C678 990.5 680 990.2 683.3 990.4C688 992 693 995 697.7 998.2C701 1001 704 1004 706.9 1007.4C709 1014 711 1022 712.2 1029.7"/><path class="o" stroke-width="1" d="M677 994C681 993.5 685 994.5 689 997C694 1000 699 1004 703 1008.5C706 1015 708 1022 709.5 1030"/><path class="o" stroke-width="1" d="M666.2 1010L675.4 1015.3M665 1016.6L674.8 1021.9M698.4 1000.9L689.2 1016.6M686.6 1021.9C686.5 1027 686 1031 684.6 1035M709.6 980.5C705 984 702 988 701.7 991.7C701.5 995 702 998 703 1000.9"/><path class="o" stroke-width="1.2" d="M717.4 932L700.4 941.2L721.4 1027.1"/><path class="o" stroke-width="1.2" d="M731.9 947.1L734.5 943.1L766.6 932.6M731.9 947.1L755.5 1061.2C756.5 1063 758 1063 759.4 1062.5C760.5 1061.5 761 1060 760.7 1058L764 1048.1L768 1046.8L767 1042"/><path class="o" stroke-width="1" d="M734.5 945.1L757.5 1058"/><path class="o" stroke-width="1.2" d="M741 941.8C743 948 746 955 748.9 960.2C752 964 755 966 758.1 966.7C762 967.5 765 967.5 768.6 966.7C772 965 775 963 776.5 960.2C778 957 778.5 953 777.8 949.7C777 945 775 941 772.5 937.9L768.6 930"/><path class="o" stroke-width="1" d="M737 941C740 950 744 958 749 964C754 969 760 971 766 971C773 970.5 778 967 780.5 961C782 955 781 948 778 942"/><path class="o" stroke-width="1" d="M743.7 945.7L766.6 933.3"/><path class="o" stroke-width="1.2" d="M764.7 1021.9C766 1016 767.5 1012 769.9 1008.7C773 1005 776 1002.5 780 1000.9C786 997 793 995 800 993C806 991 812 990 817.8 990C825 992 831 998 836.9 1005.2"/><path class="o" stroke-width="1.2" d="M771.2 1024.5C773 1020 776 1016 780 1012.7C786 1008 793 1004 800 1002.7C806 1002 812 1003 818 1006"/><path class="o" stroke-width="1.2" d="M772.5 1020.5L776.5 1070M763.4 1048.1L767.3 1070"/><path class="o" stroke-width="1.2" d="M763 912L887 1020C900 1032 912 1042 925.6 1053.3C936 1063 946 1073 955.4 1083.1C963 1092 970 1102 976.4 1112.9L1016.7 1180L1048.2 1231.5"/><path class="o" stroke-width="1.2" d="M770 929.5L851.3 988.4L859.2 1000.4L856.8 1005.2L844.9 1002L840.1 1006.8L830.5 1010L817.8 1013.1"/><path class="o" stroke-width="1.2" d="M822.6 1010L880 1060.3L910.7 1087.5L924.3 1100L955.3 1147.4L972.9 1163.7"/><path class="o" stroke-width="1.1" d="M910.7 1087.5C914 1095 917 1104 918.6 1112.9C919 1122 918.5 1132 917.7 1140.9L925.6 1143.6L955.4 1149.7"/><path class="o" stroke-width="1.2" d="M829 966.9L833.7 961.3L846.5 955.8L859.2 943.8C861 942.5 863 942 865.6 942.2C869 943.5 871.5 945.5 873.6 947.8C875.5 950 877 953 878.4 955.8L856.8 986"/><circle class="o" cx="854.5" cy="965.3" r="4.3" stroke-width="1.1"/><circle class="o" cx="865.6" cy="953.4" r="2.8" stroke-width="1.6"/><circle class="o" cx="805" cy="974.1" r="3.8" stroke-width="1.1"/><circle class="o" cx="762.7" cy="950.3" r="3.2" stroke-width="1.6"/><circle class="o" cx="758.1" cy="1001.5" r="3.8" stroke-width="1.1"/><circle class="o" cx="878.3" cy="1046.7" r="2.8" stroke-width="1.1"/><circle class="o" cx="923.8" cy="1104.1" r="3" stroke-width="1.1"/><path class="o" stroke-width="1.1" d="M858 1038L849 1047.5C848 1049 849.5 1050 851 1049L861 1041M876 1055L867 1066C866 1067.5 867.5 1068.5 869 1067.5L879 1058"/><circle class="w" cx="935" cy="1128" r="10.5" stroke-width="1.1"/><circle class="o" cx="935" cy="1128" r="8.3" stroke-width="1"/><rect x="929.5" y="1123" width="9" height="9" transform="rotate(-25 934 1127.5)" class="o" stroke-width="1"/><ellipse class="o" cx="933.5" cy="1128" rx="1.6" ry="2.4" stroke-width="1"/><path class="o" stroke-width="1.2" d="M699.7 1035C705 1033 711 1031 719 1028C726 1026 731 1024 735.8 1020.5L742.4 1045.5L738.4 1054.7L730.6 1061.2C722 1060 712 1058.5 704.3 1057.3C703 1055 702.5 1052 703 1049C702 1044 700.5 1040 699.7 1035Z"/><path class="o" stroke-width="1.2" d="M704.3 1054.5L740 1050"/><circle class="o" cx="708.9" cy="1042.9" r="3.3" stroke-width="1.5"/><ellipse class="o" cx="725.3" cy="1039.6" rx="4.3" ry="5.3" stroke-width="1.3"/><path class="o" stroke-width="1" d="M717 1061L744.6 1196.2M719.7 1061L746.6 1193.5M730.2 1063.6L751.5 1150"/><path class="o" stroke-width="1.2" d="M727.6 1063.6L749.9 1151.5C754 1165 757 1178 762.8 1190L793.7 1245.3L820 1290L872 1374.1"/><path class="o" stroke-width="1.2" d="M773.5 1040L780.7 1113.5C781.5 1120 782.5 1126 784 1131.9L791.9 1154.2L806 1194.7L884.3 1324.6M902.9 1355.6L913.2 1374"/><path class="o" stroke-width="1" d="M763 1050.5L779 1118"/><path class="o" stroke-width="1.1" d="M756.2 1264L779.2 1374.1M795.6 1269.7L816.3 1374.1"/><path class="o" stroke-width="1" d="M839 1320.5C843 1324 846 1330 847 1335M863.7 1361.8C867 1365 869 1369 870 1374"/><path class="o" stroke-width="1.1" d="M782 1116.5C785 1122 788 1127 792.4 1131L837.7 1142.3L841.9 1144.3L848 1145.4M798.6 1159.8L837.7 1146.4M792.4 1131L788.2 1143.3"/><circle class="o" cx="814" cy="1146.4" r="3.8" stroke-width="1.2"/><path class="o" stroke-width="1.1" d="M839.8 1146.4C855 1143.5 870 1141.5 883.1 1141.2C895 1141.5 907 1142.3 918.1 1143.3L926.4 1144.3"/><path class="o" stroke-width="1.2" d="M822.3 1156.7L862.5 1154L866.6 1159.8L872.8 1161.9L901.6 1161.9L905.8 1158.8L907.8 1149.5L912 1146.4L924.3 1146.4L926.4 1151.5L928.5 1161.9L925.4 1166L928.5 1174.2L932.6 1178.4L928.5 1180.4L916.1 1180.4L912 1175.3L876.9 1176.3L872.8 1180.4L843.9 1182.5L827.4 1182.5L841.9 1178.4L843.9 1170.1L839.8 1161.9L837.7 1156.7"/><path class="o" stroke-width="1" d="M824 1159L838 1158.5M830 1181L842 1180M878 1178.5L911 1177.5"/><circle cx="916.1" cy="1154.6" r="3.2" fill="#000"/><circle cx="863.5" cy="1171.1" r="3.2" fill="#000"/><circle cx="916.6" cy="1154.1" r="1.2" fill="#fff"/><circle cx="864" cy="1170.6" r="1.2" fill="#fff"/><path class="o" stroke-width="1.1" d="M924.3 1163.9C925 1159 926.5 1155.5 928.5 1153.6C931.5 1151 935 1149.8 938.8 1149.5C945 1151 952 1154 958 1157L965.6 1159.8L973.8 1161.9L971.8 1172.2L978 1178.4L981 1182.5L928.5 1174.2M938.8 1147.4L957.3 1149.5"/><path class="o" stroke-width="1.1" d="M806.8 1186.6L841.9 1177.3M917.1 1137.1C917.5 1141 920 1143.5 924 1145"/><path class="o" stroke-width="1.1" d="M756.2 1190L766.6 1205M755.3 1213.9L769.4 1206.9M756.8 1216L770.8 1209"/><path class="o" stroke-width="1.1" d="M757.2 1214.8C759 1217 760.5 1219 761.9 1221C760.5 1223 759.5 1225 759 1227.5C759.5 1229.5 760.5 1231.5 761.9 1233.1L775 1236.9L781.5 1235.9C782.5 1234.5 783.2 1233 783.4 1231.2L779.7 1222.8"/><path class="o" stroke-width="1" d="M758 1215C761 1220 763 1225 765.6 1228.4C768 1232 771 1235 775 1236.9"/><ellipse class="o" cx="771.2" cy="1223.7" rx="2.8" ry="3.4" transform="rotate(-20 771.2 1223.7)" stroke-width="1.3"/><path class="o" stroke-width="1.1" d="M747.8 1196.6C743 1202 741 1208 739.4 1213.4C738.5 1218 738.2 1222 738.4 1225.6C739 1229 740.5 1233 742.2 1235.9"/><path class="o" stroke-width="1.1" d="M769.4 1206.9L782.5 1227.5M761.9 1233.1L793.7 1245.8"/><path class="o" stroke-width="1.1" d="M742.2 1236.4L758.1 1238.3L768.4 1242L768.9 1244.8L762.8 1243.9L760.9 1246.2M739.4 1239.7L760 1246.2M742.2 1236.4C739.5 1238 737 1241 735.6 1244.4C735.5 1247.5 736 1251 736.6 1253.7C738 1256 740 1258.5 742.2 1260.3L765.6 1266.4"/><path class="o" stroke-width="1.1" d="M760.9 1246.2C759.5 1248 759 1250 759 1251.9C759.2 1254.5 759.5 1257 760 1259.4C761.5 1262 763.5 1264 765.6 1265.9M760 1252.3L793.7 1266.9L809.7 1271.5M765.6 1266.4L782.5 1262.2"/><ellipse class="o" cx="744.1" cy="1250.9" rx="2.6" ry="3.6" transform="rotate(-20 744.1 1250.9)" stroke-width="1.3"/><path class="o" stroke-width="1.1" d="M794.7 1266.9C795.5 1268.5 796.5 1270 797.5 1271.5C799 1273 800.5 1274.5 801.2 1276.2C802.5 1278.5 803.8 1281 805 1283.7C807 1285 809 1286 811.5 1286.5L820 1289.3"/><ellipse class="o" cx="807.3" cy="1279.5" rx="2.6" ry="3.4" transform="rotate(-20 807.3 1279.5)" stroke-width="1.3"/><path class="o" stroke-width="1.2" d="M945.4 1177.2C956 1184 967 1192 976.4 1200.4C983 1210 989 1221 993.8 1231.5L995.8 1241.2C1002 1250 1008 1258 1013.2 1266.4L1021 1281.9C1025 1288 1030 1293 1034.6 1295.5L1044.3 1297.4"/><path class="o" stroke-width="1.1" d="M972.9 1163.7L976.4 1181L1059.8 1316.8"/><circle class="o" cx="1001.6" cy="1236.3" r="5" stroke-width="1.1"/><circle class="o" cx="1001.6" cy="1236.3" r="3" stroke-width="1.1"/><circle class="o" cx="1025.9" cy="1276.1" r="5" stroke-width="1.1"/><circle class="o" cx="1025.9" cy="1276.1" r="3" stroke-width="1.1"/><ellipse class="o" cx="1025.9" cy="1248" rx="2.5" ry="3.5" stroke-width="1.1"/><path class="o" stroke-width="1.1" d="M1064.7 1240.2L1040.4 1232.4C1036 1232 1034 1236 1035.6 1243.1C1038 1247 1040 1249 1042.3 1250.9L1046.2 1258.6L1064.7 1266.4"/><path class="o" stroke-width="1.2" d="M881.3 1325.6L972.5 1340.1L1064.7 1363.4M881.3 1325.6C876 1325 873 1328 873.6 1330.4C873 1336 873.5 1340 875.5 1344C878 1348 881 1350.5 885.2 1351.7L972.5 1365.3L1064 1378"/><path class="o" stroke-width="1.1" d="M972.5 1339.1C980 1338 988 1337.5 995.8 1337.2C1010 1335 1022 1333 1034.6 1330.4L1059.8 1316.8M1003.5 1345.9L1059.8 1317M1043 1352L1062 1333"/><ellipse class="o" cx="1037.5" cy="1337.2" rx="3.5" ry="2.5" stroke-width="1.2"/><ellipse class="o" cx="1058.8" cy="1344" rx="3.5" ry="2.5" stroke-width="1.2"/><path class="o" stroke-width="1.1" d="M974.5 1365.5V1378M995 1372V1378"/><path class="o" stroke-width="1" d="M813 1358C817 1360 819 1365 818 1370M770 1313C774 1315 776 1319 775 1323"/><path class="o" stroke-width="1.1" d="M689 1094.4L732 1071.3"/><path class="o" stroke-width="1" d="M736 1067.5l1.5 1.5"/>
<path class="w" d="M657.9 1103.5L676 1094L686 1097L688.2 1102L683 1108L664 1117.5L659 1112Z" stroke-width="1.2"/>
<path class="o" stroke-width="1" d="M659 1106L663 1113M665 1101L669 1110M673 1097L677 1106M679 1096L684 1093L688.5 1095"/>
<ellipse class="w" cx="686" cy="1097" rx="3" ry="4.5" transform="rotate(30 686 1097)" stroke-width="1.1"/>
<path class="o" stroke-width="2" d="M658 1112L664 1117.5L683 1108"/>
<ellipse class="w" stroke-width="1.3" cx="736" cy="904.3" rx="28.7" ry="25.5" transform="rotate(22 736 904.3)"/>
<ellipse class="o" cx="736" cy="904.3" rx="25.8" ry="22.6" transform="rotate(22 736 904.3)" stroke-width="1.1"/>
<path class="o" stroke-width="1.1" d="M712 896.3C722 890 745 895 753.5 917.8M713.5 899C724 893 742 898 750 916"/>
<polygon points="55.2,92.6 72.1,72.9 72.1,87.0 130.6,118.5 130.6,152.2 72.1,118.5 72.1,132.6" fill="#000" stroke="#000" stroke-width="1"/><polygon points="56.1,92.1 73.0,72.5 73.0,86.5 131.5,118.0 131.5,151.8 73.0,118.0 73.0,132.2" fill="#000" stroke="#000" stroke-width="1"/><polygon points="57.0,91.7 73.9,72.0 73.9,86.1 132.4,117.6 132.4,151.3 73.9,117.6 73.9,131.7" fill="#000" stroke="#000" stroke-width="1"/><polygon points="57.9,91.2 74.8,71.6 74.8,85.7 133.3,117.2 133.3,150.8 74.8,117.2 74.8,131.2" fill="#000" stroke="#000" stroke-width="1"/><polygon points="58.9,90.8 75.8,71.1 75.8,85.2 134.2,116.7 134.2,150.4 75.8,116.7 75.8,130.8" fill="#000" stroke="#000" stroke-width="1"/><polygon points="59.8,90.3 76.7,70.7 76.7,84.8 135.2,116.2 135.2,149.9 76.7,116.2 76.7,130.3" fill="#000" stroke="#000" stroke-width="1"/><polygon points="60.7,89.9 77.6,70.2 77.6,84.3 136.1,115.8 136.1,149.5 77.6,115.8 77.6,129.9" fill="#000" stroke="#000" stroke-width="1"/><polygon points="61.6,89.4 78.5,69.8 78.5,83.8 137.0,115.3 137.0,149.0 78.5,115.3 78.5,129.4" fill="#000" stroke="#000" stroke-width="1"/><polygon points="62.5,89.0 79.4,69.3 79.4,83.4 137.9,114.9 137.9,148.6 79.4,114.9 79.4,129.0" fill="#000" stroke="#000" stroke-width="1"/>
<polygon points="55.2,92.6 72.1,72.9 72.1,87 130.6,118.5 130.6,152.2 72.1,118.5 72.1,132.6" fill="#fff" stroke="#000" stroke-width="1.2"/>
<text x="0" y="0" font-size="25" font-weight="bold" style="stroke:none" transform="matrix(0.47 0.267 0 1 65.3 107.8)">F</text>
<text x="0" y="0" font-size="25" font-weight="bold" style="stroke:none" transform="matrix(0.47 0.267 0 1 78.8 115.4)">R</text>
<text x="0" y="0" font-size="25" font-weight="bold" style="stroke:none" transform="matrix(0.47 0.267 0 1 92.3 123.1)">O</text>
<text x="0" y="0" font-size="25" font-weight="bold" style="stroke:none" transform="matrix(0.47 0.267 0 1 106.4 131.1)">N</text>
<text x="0" y="0" font-size="25" font-weight="bold" style="stroke:none" transform="matrix(0.47 0.267 0 1 120.4 139.1)">T</text>
<g><text x="996.7" y="49.2" font-size="16.5" textLength="50.9" lengthAdjust="spacing" transform="scale(0.97 1)">F2310</text><text x="591.6" y="113.0" font-size="18.0" textLength="55.9" lengthAdjust="spacing" transform="scale(0.97 1)">92154</text><text x="538.9" y="179.5" font-size="18.0" textLength="68.1" lengthAdjust="spacing" transform="scale(0.97 1)">46012A</text><text x="474.6" y="230.9" font-size="18.0" textLength="56.2" lengthAdjust="spacing" transform="scale(0.97 1)">92037</text><text x="466.9" y="321.9" font-size="18.0" textLength="56.0" lengthAdjust="spacing" transform="scale(0.97 1)">46003</text><text x="237.5" y="398.3" font-size="16.5" textLength="54.8" lengthAdjust="spacing" transform="scale(0.97 1)">92037</text><text x="132.4" y="397.0" font-size="18.0" textLength="67.2" lengthAdjust="spacing" transform="scale(0.97 1)">27010A</text><text x="52.0" y="489.8" font-size="18.0" textLength="55.6" lengthAdjust="spacing" transform="scale(0.97 1)">49006</text><text x="570.1" y="491.0" font-size="16.5" textLength="55.5" lengthAdjust="spacing" transform="scale(0.97 1)">46012</text><text x="520.2" y="543.0" font-size="18.0" textLength="56.1" lengthAdjust="spacing" transform="scale(0.97 1)">92200</text><text x="490.4" y="583.2" font-size="18.0" textLength="53.9" lengthAdjust="spacing" transform="scale(0.97 1)">92161</text><text x="79.8" y="641.6" font-size="18.0" textLength="56.4" lengthAdjust="spacing" transform="scale(0.97 1)">46075</text><text x="466.0" y="660.2" font-size="18.0" textLength="158.6" lengthAdjust="spacing" transform="scale(0.97 1)">Ref.Front Fork</text><text x="362.8" y="801.3" font-size="18.0" textLength="55.4" lengthAdjust="spacing" transform="scale(0.97 1)">92161</text><text x="346.6" y="832.0" font-size="16.5" textLength="56.7" lengthAdjust="spacing" transform="scale(0.97 1)">92200</text><text x="327.6" y="862.2" font-size="16.5" textLength="56.7" lengthAdjust="spacing" transform="scale(0.97 1)">92022</text><text x="303.3" y="893.9" font-size="18.0" textLength="57.1" lengthAdjust="spacing" transform="scale(0.97 1)">92210</text><text x="157.1" y="909.4" font-size="18.0" textLength="32.5" lengthAdjust="spacing" transform="scale(0.97 1)">554</text><text x="693.7" y="313.0" font-size="16.5" textLength="67.5" lengthAdjust="spacing" transform="scale(0.97 1)">27010B</text><text x="899.2" y="228.0" font-size="16.5" textLength="55.5" lengthAdjust="spacing" transform="scale(0.97 1)">46019</text><text x="892.4" y="389.0" font-size="16.5" textLength="52.8" lengthAdjust="spacing" transform="scale(0.97 1)">11021</text><text x="826.8" y="459.5" font-size="18.0" textLength="56.2" lengthAdjust="spacing" transform="scale(0.97 1)">92172</text><text x="707.5" y="523.4" font-size="18.0" textLength="52.3" lengthAdjust="spacing" transform="scale(0.97 1)">14091</text><text x="714.3" y="838.6" font-size="18.0" textLength="101.3" lengthAdjust="spacing" transform="scale(0.97 1)">Ref.Frame</text><text x="652.6" y="1170.5" font-size="18.0" textLength="57.0" lengthAdjust="spacing" transform="scale(0.97 1)">92173</text><text x="433.4" y="1014.8" font-size="18.0" textLength="55.9" lengthAdjust="spacing" transform="scale(0.97 1)">92066</text><text x="178.0" y="1063.0" font-size="18.0" textLength="55.9" lengthAdjust="spacing" transform="scale(0.97 1)">46076</text><text x="432.9" y="1071.8" font-size="18.0" textLength="56.4" lengthAdjust="spacing" transform="scale(0.97 1)">92009</text><text x="364.2" y="1094.9" font-size="18.0" textLength="67.9" lengthAdjust="spacing" transform="scale(0.97 1)">92015A</text><text x="224.1" y="1119.3" font-size="18.0" textLength="68.2" lengthAdjust="spacing" transform="scale(0.97 1)">92154A</text><text x="228.1" y="1174.5" font-size="18.0" textLength="55.3" lengthAdjust="spacing" transform="scale(0.97 1)">13280</text><text x="121.2" y="1190.3" font-size="18.0" textLength="55.9" lengthAdjust="spacing" transform="scale(0.97 1)">46092</text><text x="495.9" y="1206.1" font-size="18.0" textLength="32.9" lengthAdjust="spacing" transform="scale(0.97 1)">410</text><text x="248.4" y="1252.7" font-size="18.0" textLength="56.7" lengthAdjust="spacing" transform="scale(0.97 1)">92015</text><text x="221.9" y="1292.8" font-size="18.0" textLength="56.2" lengthAdjust="spacing" transform="scale(0.97 1)">27010</text><text x="432.9" y="1326.5" font-size="18.0" textLength="67.0" lengthAdjust="spacing" transform="scale(0.97 1)">13280A</text><text x="523.9" y="1334.6" font-size="18.0" textLength="32.1" lengthAdjust="spacing" transform="scale(0.97 1)">120</text><text x="249.8" y="1340.8" font-size="18.0" textLength="68.4" lengthAdjust="spacing" transform="scale(0.97 1)">92172A</text></g>
</svg></body></html>
